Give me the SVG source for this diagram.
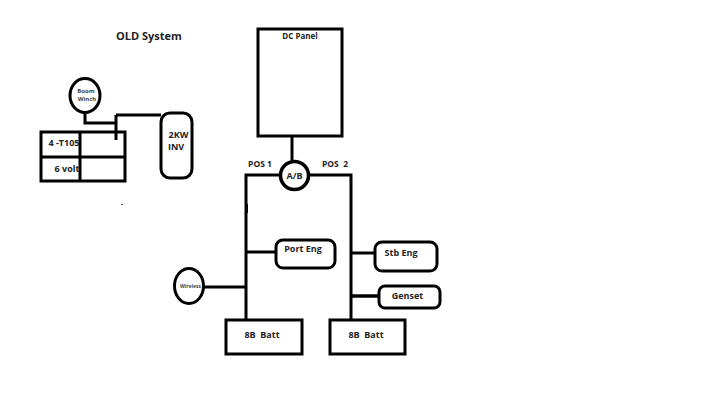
<svg xmlns="http://www.w3.org/2000/svg" width="712" height="400" viewBox="0 0 712 400">
<style>
.s{fill:none;stroke:#000;stroke-width:3}
.f{fill:#fff;stroke:#000;stroke-width:3}
.g{stroke-width:3.500px}
text{font-family:"Open Sans","Liberation Sans",sans-serif;font-weight:700;fill:#222;text-anchor:middle;font-size:9px}
.tiny{font-size:6px;fill:#444}
.sm{font-size:8.500px}
</style>
<rect width="712" height="400" fill="#fff"/>
<text x="149" y="40" style="font-size:11px">OLD System</text>
<g id="connectors">
<path class="s" d="M85 112V123H116M116 115V140M116 115H161"/>
<path class="s" d="M292 136V160"/>
<path class="s" d="M280 175H246V320M309 175H351V320"/>
<path class="s" d="M246 252H276M351 253H376M246 287H204"/>
<path class="s g" d="M351 296H380"/>
<rect x="246" y="204" width="2" height="9" fill="#000"/>
<rect x="121" y="204" width="2" height="1" fill="#555"/>
</g>
<g id="boom-winch"><ellipse class="f" cx="85" cy="95.500" rx="15" ry="17"/><text class="tiny" x="86" y="93">Boom</text><text class="tiny" x="87" y="101">Winch</text></g>
<g id="battery-bank">
<rect class="s" x="41" y="132" width="84" height="49"/>
<path class="s" d="M41 157H125M80 132V181"/>
<text x="64" y="146">4 -T105</text>
<text x="67" y="172">6 volt</text>
</g>
<g id="inverter"><rect class="f" x="161" y="113" width="31" height="65" rx="9"/><text x="178.500" y="138">2KW</text><text x="176" y="150">INV</text></g>
<g id="dc-panel"><rect class="f" x="258" y="29" width="84" height="107"/><text x="300" y="39" style="font-size:8px">DC Panel</text></g>
<g id="ab-switch"><circle class="f g" cx="294.500" cy="175.500" r="14"/><text x="294.500" y="179">A/B</text></g>
<text class="sm" x="260" y="167">POS 1</text>
<text class="sm" x="335" y="167" xml:space="preserve">POS  2</text>
<g id="port-eng"><rect class="f" x="276" y="240" width="59" height="28" rx="7"/><text x="303" y="252">Port Eng</text></g>
<g id="stb-eng"><rect class="f" x="375" y="242" width="62" height="29" rx="7"/><text x="401" y="256">Stb Eng</text></g>
<g id="genset"><rect class="f" x="379" y="286" width="61" height="22" rx="6"/><text x="407.500" y="299">Genset</text></g>
<g id="wireless"><ellipse class="f" cx="189" cy="286" rx="14.500" ry="17.500"/><text class="tiny" x="190.500" y="288" style="font-size:5px">Wireless</text></g>
<g id="batt-1"><rect class="f" x="226" y="320" width="76" height="34"/><text x="262" y="338" xml:space="preserve">8B  Batt</text></g>
<g id="batt-2"><rect class="f" x="330" y="320" width="75" height="34"/><text x="366" y="338" xml:space="preserve">8B  Batt</text></g>
</svg>
